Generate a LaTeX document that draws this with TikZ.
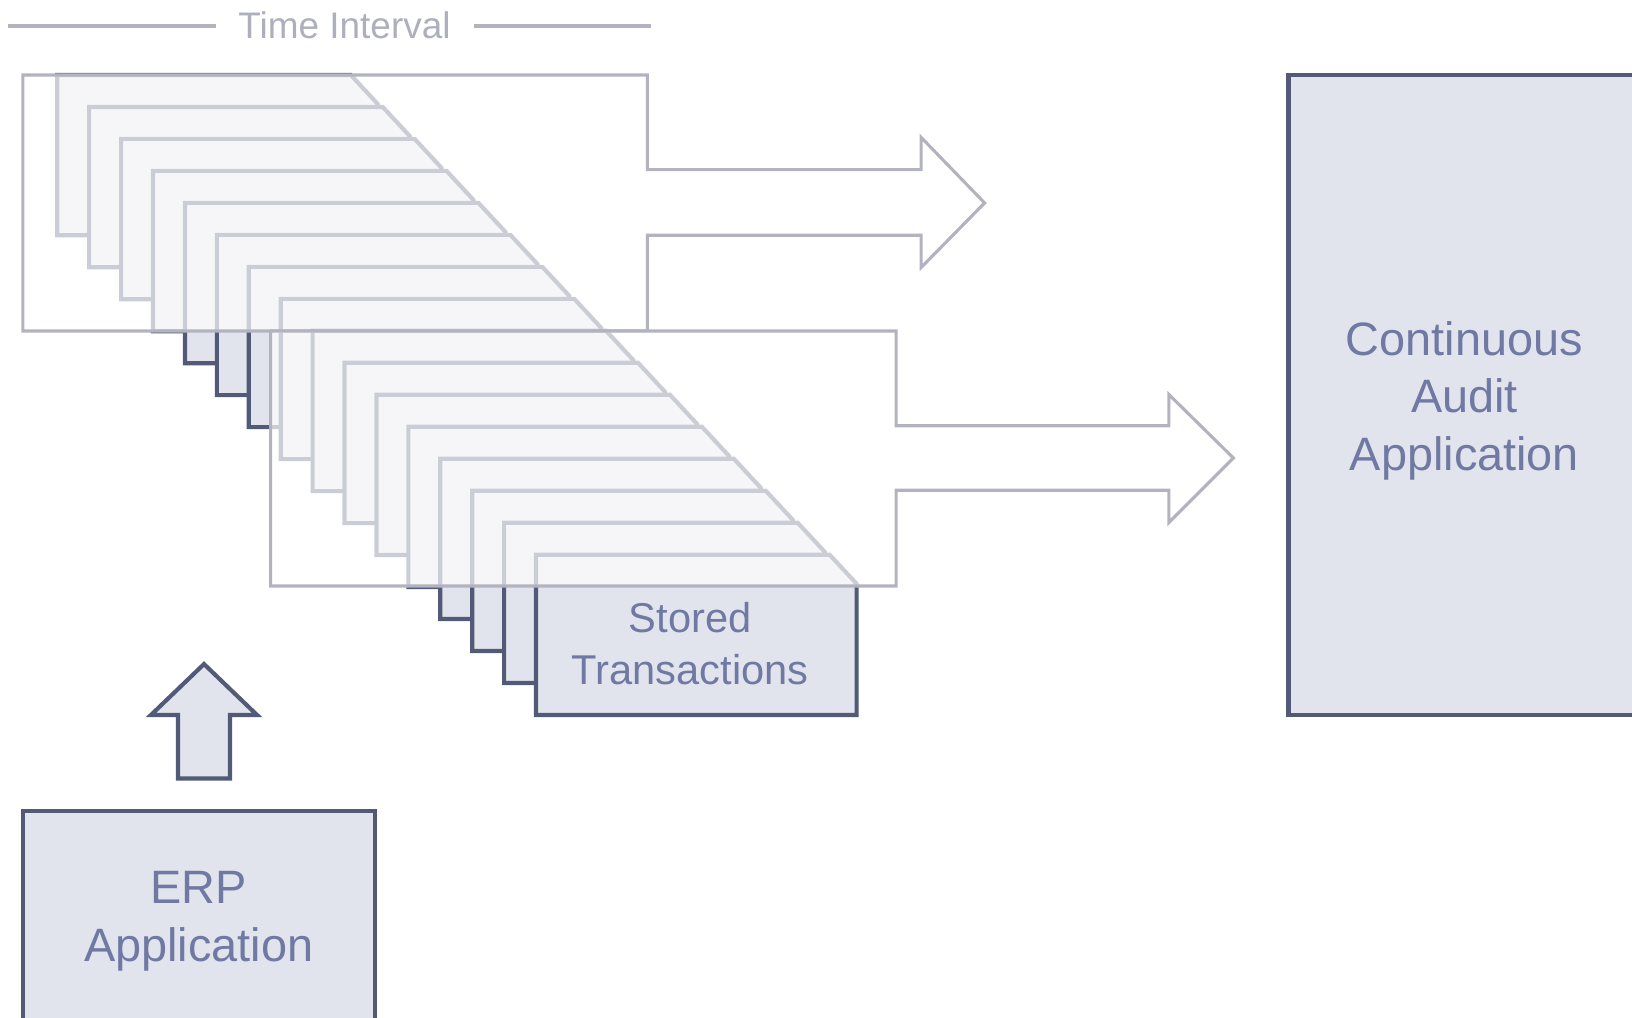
\documentclass[tikz,border=0pt]{standalone}
\usepackage{fontspec}
\setmainfont{Liberation Sans}
\definecolor{edge}{HTML}{525A78}
\definecolor{panel}{HTML}{E1E4EC}
\definecolor{label}{HTML}{7079A3}
\definecolor{haze}{HTML}{B3B3BF}
\definecolor{caption}{HTML}{ADAFBD}
\begin{document}
\begin{tikzpicture}[x=1pt,y=-1pt,
  card/.style={draw=edge, fill=panel, line width=4pt, line join=miter, outer sep=0pt},
  flow/.style={draw=haze, fill=white, fill opacity=0.7, draw opacity=1, line width=3pt, line join=miter},
  boxtext/.style={text=label, align=center, inner sep=0pt},
]
\useasboundingbox (0,0) rectangle (1568,978);
\clip (0,0) rectangle (1568,978);

% time interval caption with its two rules
\node[text=caption, font=\fontsize{35.5}{40}\selectfont] (interval) at (331,24) {Time Interval};
\coordinate (ruleAs) at (8,25);
\coordinate (ruleAe) at (208,25);
\coordinate (ruleBs) at (455,25);
\coordinate (ruleBe) at (625,25);
\draw[haze, line width=3pt] (ruleAs) -- (ruleAe);
\draw[haze, line width=3pt] (ruleBs) -- (ruleBe);

% stack of transaction records, back to front
\foreach \i in {0,...,15}{
  \pgfmathsetmacro\L{55+30.67*\i}
  \pgfmathsetmacro\T{72+30.73*\i}
  \draw[card] (\L,\T) -- ++(282,0) -- ++(26,28) -- ++(0,126) -- ++(-308,0) -- cycle;
}

% translucent block arrows grouping the records by interval
\draw[flow] (22,72) -- (622,72) -- (622,163) -- (885,163) -- (885,132) -- (946,195)
  -- (885,257) -- (885,226) -- (622,226) -- (622,318) -- (22,318) -- cycle;
\draw[flow] (260,318) -- (861,318) -- (861,409) -- (1123,409) -- (1123,379) -- (1185,440)
  -- (1123,502) -- (1123,471) -- (861,471) -- (861,563) -- (260,563) -- cycle;

\node[boxtext, font=\fontsize{40}{50}\selectfont] (stored) at (663,618) {Stored\\Transactions};

% continuous audit application
\node[card, anchor=north west, minimum width=420pt, minimum height=615pt] (audit) at (1238,72) {};
\node[boxtext, font=\fontsize{45}{55.5}\selectfont] (audittext) at (1407,385) {Continuous\\Audit\\Application};

% ERP application and its feed arrow
\node[card, anchor=north west, minimum width=338pt, minimum height=260pt] (erp) at (22,779) {};
\node[boxtext, font=\fontsize{45}{55.5}\selectfont] (erptext) at (191,885) {ERP\\Application};
\draw[card] (196,638) -- (247,687) -- (221,687) -- (221,748) -- (171,748) -- (171,687) -- (145,687) -- cycle;
\end{tikzpicture}
\end{document}
